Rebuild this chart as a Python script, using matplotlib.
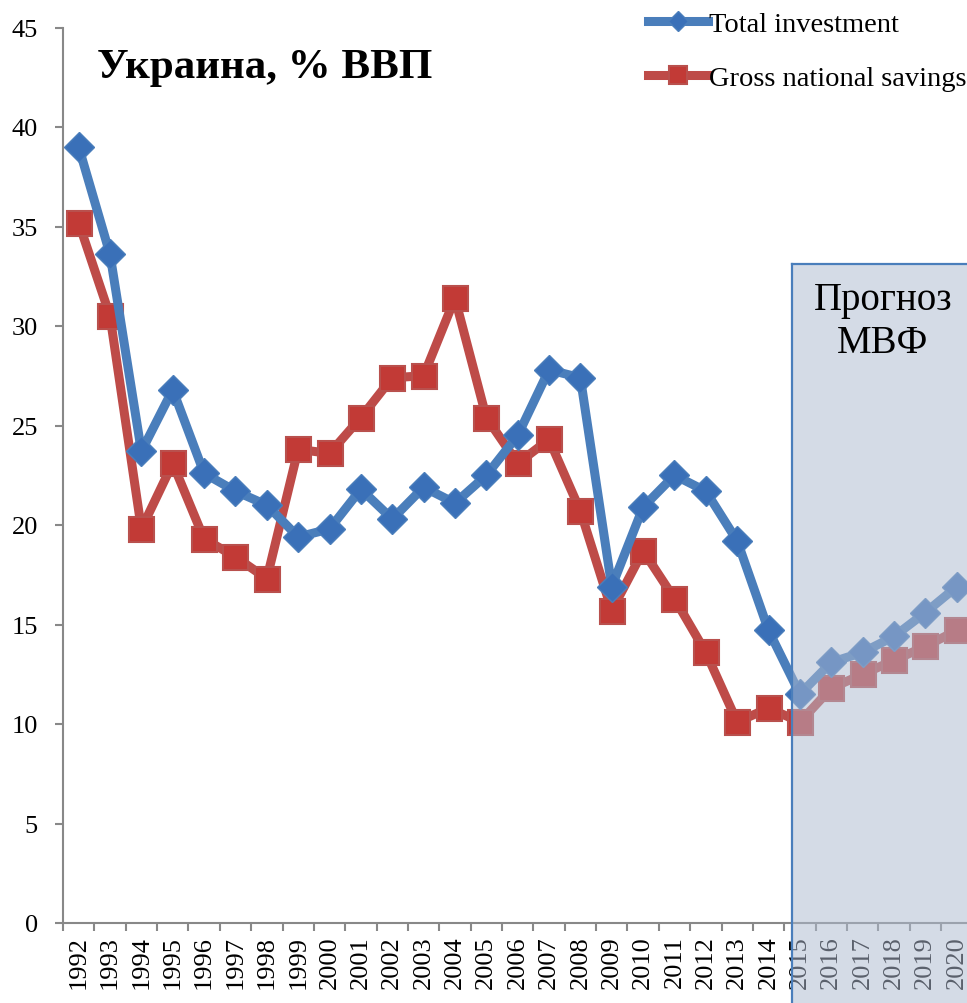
import numpy as np
import matplotlib
matplotlib.use("Agg")
import matplotlib.pyplot as plt
from matplotlib.patches import Rectangle

# ── Data ──────────────────────────────────────────────────────
years = list(range(1992, 2021))
total_investment = [39.0, 33.6, 23.7, 26.8, 22.6, 21.7, 21.0, 19.4, 19.8, 21.8,
                    20.3, 21.9, 21.1, 22.5, 24.5, 27.8, 27.4, 16.9, 20.9, 22.5,
                    21.7, 19.2, 14.7, 11.5, 13.1, 13.6, 14.4, 15.6, 16.9]
gross_savings = [35.2, 30.5, 19.8, 23.1, 19.3, 18.4, 17.3, 23.8, 23.6, 25.4,
                 27.4, 27.5, 31.4, 25.4, 23.1, 24.3, 20.7, 15.7, 18.7, 16.3,
                 13.6, 10.1, 10.8, 10.1, 11.8, 12.5, 13.2, 13.9, 14.7]
forecast_start = 2015
yticks = [0, 5, 10, 15, 20, 25, 30, 35, 40, 45]

SERIF = ["Liberation Serif", "DejaVu Serif"]
plt.rcParams['font.family'] = SERIF

BLUE_LINE = '#4A7EBB'
BLUE_MK = '#3A70B8'
RED_LINE = '#BE4B48'
RED_MK = '#C23A36'
RED_EDGE = '#B9504D'
GRAY = '#888888'

fig = plt.figure(figsize=(9.67, 10.04), dpi=100)
ax = fig.add_axes([63/967, 80/1004, 909.4/967, 895.5/1004])

x = np.arange(len(years))
ax.plot(x, total_investment, '-', color=BLUE_LINE, lw=6.5, marker='D',
        ms=15, mfc=BLUE_MK, mec=BLUE_LINE, mew=1, label='Total investment', zorder=3)
ax.plot(x, gross_savings, '-', color=RED_LINE, lw=6.5, marker='s',
        ms=18, mfc=RED_MK, mec=RED_EDGE, mew=1.5, label='Gross national savings', zorder=2)

ax.set_xlim(-0.5, len(years) - 0.5)
ax.set_ylim(0, 45)
ax.set_yticks(yticks)
ax.set_yticklabels([str(v) for v in yticks], fontsize=19)
ax.set_xticks(x)
ax.set_xticklabels([str(y) for y in years], rotation=90, fontsize=19)
ax.set_xticks(np.arange(-0.5, len(years)), minor=True)
ax.tick_params(axis='x', which='major', length=0, pad=9)
ax.tick_params(axis='x', which='minor', length=6, width=1.5, color=GRAY, direction='out')
ax.tick_params(axis='y', length=6, width=1.5, color=GRAY, direction='out', pad=12)

for s in ['top', 'right']:
    ax.spines[s].set_visible(False)
for s in ['left', 'bottom']:
    ax.spines[s].set_color(GRAY)
    ax.spines[s].set_linewidth(1.5)

# ── Forecast overlay (covers lines and tick labels) ──────────
fx = years.index(forecast_start) - 0.25
rect = Rectangle((fx, -5), 10, 38.1, facecolor='#AEBAD0', alpha=0.52,
                 edgecolor='none', clip_on=False, zorder=10)
ax.add_patch(rect)
ax.plot([fx, fx], [-5, 33.1], color=BLUE_LINE, lw=1.6, clip_on=False, zorder=11)
ax.plot([fx, 30], [33.1, 33.1], color=BLUE_LINE, lw=1.6, clip_on=False, zorder=11)
fig.text(883/967, 1 - 322/1004, "Прогноз\nМВФ", ha='center', va='center',
         fontsize=28, linespacing=1.2, zorder=12)

# ── Title and legend ─────────────────────────────────────────
fig.text(97/967, 1 - 78/1004, "Украина, % ВВП", fontsize=31, fontweight='bold',
         va='baseline', ha='left')
ax.legend(loc='upper left', bbox_to_anchor=(648/967, 1 - 12/1004),
          bbox_transform=fig.transFigure, frameon=False, fontsize=20.5,
          handlelength=2.1, handletextpad=0.05, labelspacing=1.0,
          borderpad=0, borderaxespad=0, markerscale=0.7)

plt.savefig("out.png", dpi=100)
